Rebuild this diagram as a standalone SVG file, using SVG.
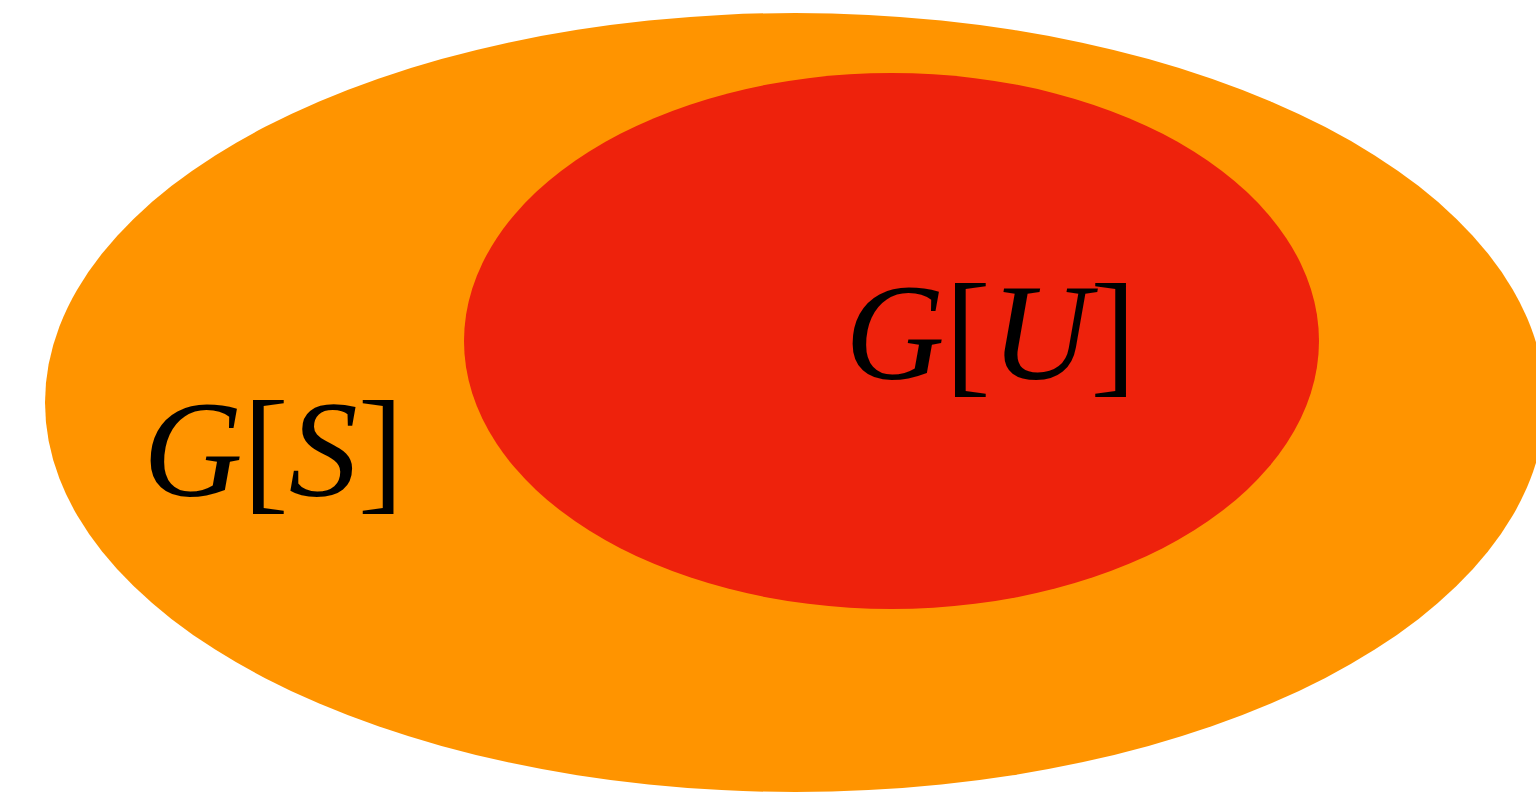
<svg xmlns="http://www.w3.org/2000/svg" width="1536" height="794" viewBox="0 0 1536 794">
<style>
text{font-family:'Liberation Serif','Times New Roman',serif;font-size:138px;fill:#000}
.it{font-style:italic}
</style>
<rect width="1536" height="794" fill="#fff"/>
<g id="S">
<ellipse cx="795" cy="402.5" rx="750" ry="389.5" fill="#FF9400"/>
<text x="143" y="496"><tspan class="it">G</tspan>[<tspan class="it">S</tspan>]</text>
</g>
<g id="U">
<ellipse cx="891.5" cy="341" rx="427.5" ry="268" fill="#EE220C"/>
<text x="845" y="379"><tspan class="it">G</tspan>[<tspan class="it">U</tspan>]</text>
</g>
<g id="connectors"/>
</svg>
